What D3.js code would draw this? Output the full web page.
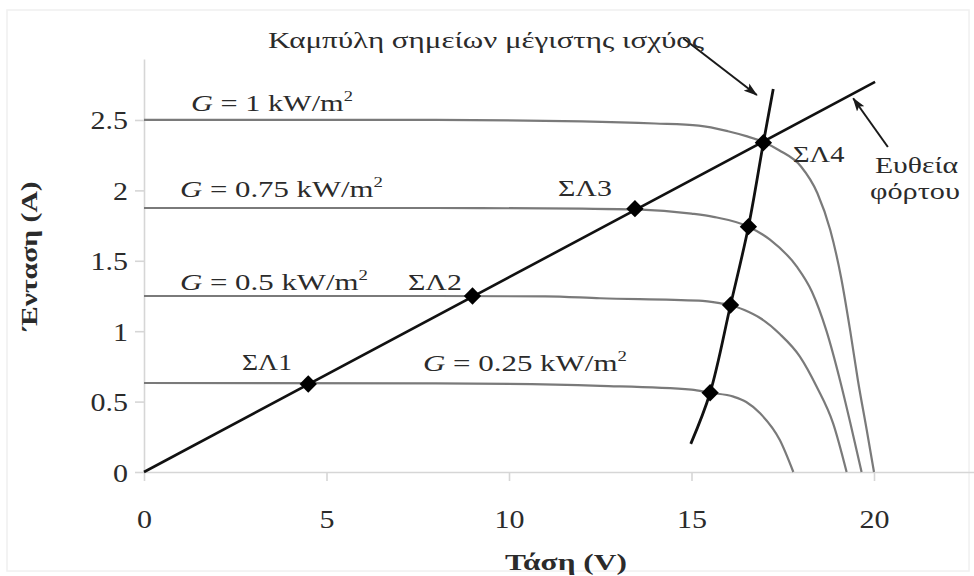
<!DOCTYPE html>
<html><head><meta charset="utf-8">
<script src="https://cdn.jsdelivr.net/npm/d3@7"></script>
<style>body{margin:0;background:#fff} svg{display:block}</style>
</head><body><svg id="chart" width="974" height="576"></svg>
<script>
// ---------- DATA ----------
const xTicks = [0, 5, 10, 15, 20];
const yTicks = [0, 0.5, 1, 1.5, 2, 2.5];
const irradiance = ["1", "0.75", "0.5", "0.25"];           // kW/m²
const curveG100 = [[0,2.5],[8,2.5],[12,2.49],[14,2.475],[15.2,2.46],[16,2.42],[16.5,2.385],[17,2.34],[17.4,2.285],[18,2.17],[18.45,1.98],[18.8,1.72],[19.1,1.38],[19.35,1.0],[19.56,0.65],[19.8,0.3],[20,0]];
const curveG075 = [[0,1.875],[8,1.875],[12,1.87],[13.5,1.865],[15,1.835],[15.6,1.812],[16.56,1.742],[17.15,1.65],[17.88,1.46],[18.3,1.28],[18.7,1.0],[19.07,0.65],[19.35,0.35],[19.66,0]];
const curveG050 = [[0,1.25],[8,1.25],[11,1.247],[12.5,1.234],[15.2,1.217],[15.8,1.198],[16.07,1.186],[16.45,1.15],[16.9,1.09],[17.42,0.98],[17.97,0.82],[18.43,0.606],[18.88,0.346],[19.25,0]];
const curveG025 = [[0,0.632],[8,0.63],[12.5,0.612],[15,0.585],[15.51,0.563],[16.15,0.535],[16.5,0.497],[16.88,0.417],[17.42,0.227],[17.79,0]];
const loadLine = [[0,0],[20.03,2.77]];
const mppCurve = [[14.98,0.2],[15.51,0.563],[16.07,1.186],[16.56,1.742],[16.97,2.339],[17.24,2.72]];
const operatingPoints = [[4.5,0.625],[9.0,1.25],[13.45,1.87],[16.97,2.339]];
const operatingLabels = ["ΣΛ1","ΣΛ2","ΣΛ3","ΣΛ4"];
const mppPoints = [[15.51,0.563],[16.07,1.186],[16.56,1.742]];
const titleText = "Καμπύλη σημείων μέγιστης ισχύος";
const loadText = ["Ευθεία", "φόρτου"];
const xTitle = "Τάση (V)";
const yTitle = "Ένταση (A)";
const arrowMpp = [[14.77,3.08],[16.79,2.677]];
const arrowLoad = [[20.38,2.308],[19.43,2.654]];

// ---------- CHART ----------
const svg = d3.select("#chart");
const FONT = "'Liberation Serif','Times New Roman',serif";
const TXT = "#2b2b2b";
const x = d3.scaleLinear().domain([0, 22.74]).range([144, 974]);
const y = d3.scaleLinear().domain([0, 2.933]).range([472, 59]);

svg.append("rect").attr("x",7).attr("y",10).attr("width",962).attr("height",561)
  .attr("fill","#fff").attr("stroke","#f0f0f0").attr("stroke-width",1.5);

const defs = svg.append("defs");
defs.append("marker").attr("id","arr").attr("viewBox","0 0 14 10")
  .attr("refX",13).attr("refY",5).attr("markerWidth",14).attr("markerHeight",10)
  .attr("markerUnits","userSpaceOnUse").attr("orient","auto")
  .append("path").attr("d","M0,0.5 L14,5 L0,9.5 L3,5 Z").attr("fill","#1a1a1a");

const SX = 1.2;
// axes
const gx = svg.append("g").attr("transform",`translate(0,${y(0)})`)
  .call(d3.axisBottom(x).tickValues(xTicks).tickSize(9).tickSizeOuter(0).tickFormat(d3.format("d")));
const gy = svg.append("g").attr("transform",`translate(${x(0)},0)`)
  .call(d3.axisLeft(y).tickValues(yTicks).tickSize(9).tickSizeOuter(0).tickFormat(d => d===0?"0":String(d)));
[gx, gy].forEach(g => {
  g.select(".domain").attr("stroke","#d6d6d6").attr("stroke-width",1.6);
  g.selectAll(".tick line").attr("stroke","#d6d6d6").attr("stroke-width",1.6);
  g.selectAll(".tick text").attr("fill",TXT).style("font-family",FONT).style("font-size","25px");
});
gx.selectAll(".tick text").attr("y",56).attr("dy",0).attr("transform",`scale(${SX},1)`);
gy.selectAll(".tick text").attr("x",-16/SX).attr("dy","0.36em").attr("transform",`scale(${SX},1)`);

// I-V curves
const line = d3.line().x(d=>x(d[0])).y(d=>y(d[1]));
const smooth = d3.line().x(d=>x(d[0])).y(d=>y(d[1])).curve(d3.curveMonotoneX);
[curveG100, curveG075, curveG050, curveG025].forEach(c => {
  svg.append("path").attr("d", smooth(c)).attr("fill","none")
    .attr("stroke","#7a7a7a").attr("stroke-width",2.2);
});
// load line and MPP curve
svg.append("path").attr("d", line(loadLine)).attr("fill","none").attr("stroke","#111").attr("stroke-width",2.6);
svg.append("path").attr("d", d3.line().x(d=>x(d[0])).y(d=>y(d[1])).curve(d3.curveCatmullRom)(mppCurve))
  .attr("fill","none").attr("stroke","#111").attr("stroke-width",2.8);

// markers
const diamond = d3.symbol().type(d3.symbolSquare).size(150);
svg.selectAll(".pt").data(operatingPoints.concat(mppPoints)).enter().append("path")
  .attr("d", diamond).attr("fill","#000")
  .attr("transform", d => `translate(${x(d[0])},${y(d[1])}) rotate(45)`);

// arrows
[arrowMpp, arrowLoad].forEach(a => {
  svg.append("path").attr("d", line(a)).attr("stroke","#1a1a1a").attr("stroke-width",2)
    .attr("fill","none").attr("marker-end","url(#arr)");
});

// text helper: left x, baseline y, target width
function fit(t, px, py, w, rot) {
  const bw = t.node().getBBox().width;
  const s = w / bw;
  t.attr("transform", `translate(${px},${py})` + (rot ? ` rotate(${rot})` : "") + ` scale(${s},1)`);
}
function txt(str, size, weight) {
  return svg.append("text").text(str).attr("fill",TXT).style("font-family",FONT)
    .style("font-size",size+"px").style("font-weight",weight||"normal");
}

fit(txt(titleText, 24), 268, 48, 437);

// irradiance labels
const gPos = [[191,111,162],[180,197,203],[180,290,188],[423,371,204]];
irradiance.forEach((g, i) => {
  const t = svg.append("text").attr("fill",TXT).style("font-family",FONT).style("font-size","23px");
  t.append("tspan").text("G").style("font-style","italic");
  t.append("tspan").text(" = " + g + " kW/m");
  t.append("tspan").text("2").style("font-size","14px").attr("dy",-10);
  fit(t, gPos[i][0], gPos[i][1], gPos[i][2]);
});

// operating point labels
const sPos = [[242,370,50],[408,290,54],[558,196,54],[793,162,52]];
operatingLabels.forEach((s, i) => fit(txt(s, 23), sPos[i][0], sPos[i][1], sPos[i][2]));

fit(txt(loadText[0], 23), 875, 173, 83);
fit(txt(loadText[1], 23), 870, 199, 90);

fit(txt(xTitle, 24, "bold"), 505, 570, 122);
const yt = txt(yTitle, 24, "bold");
fit(yt, 37, 330, 150, -90);
</script></body></html>
